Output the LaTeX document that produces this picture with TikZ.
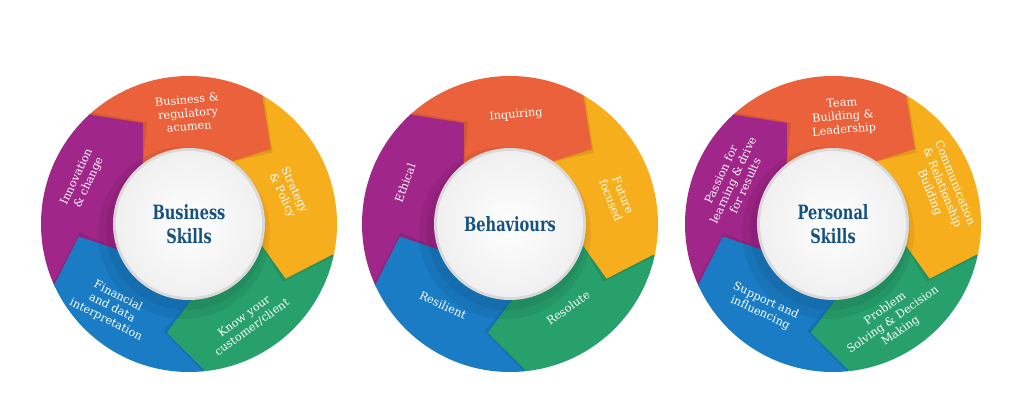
\documentclass[tikz,border=0pt]{standalone}
\usepackage{fontspec}
\setmainfont{DejaVu Serif}
\newfontfamily\hubfont{DejaVu Serif}[FakeStretch=0.74]
\usepackage{tikz}

\definecolor{segorange}{RGB}{234,97,59}
\definecolor{segyellow}{RGB}{247,174,29}
\definecolor{seggreen}{RGB}{39,160,108}
\definecolor{segblue}{RGB}{26,124,196}
\definecolor{segpurple}{RGB}{161,38,137}
\definecolor{hubtext}{RGB}{22,82,128}

\tikzset{
  seg/.style={font=\fontsize{8}{9.5}\selectfont, text=white, align=center, inner sep=0pt},
  hub/.style={circle, minimum size=3.65cm, inner sep=0pt, inner color=white, outer color=gray!12,
    font=\hubfont\bfseries\fontsize{14}{17}\selectfont, text=hubtext, align=center}
}

\begin{document}
\begin{tikzpicture}[x=0.025cm,y=0.025cm]
  \useasboundingbox (0,0) rectangle (1024,414);

  % the three rings
  \foreach \cx in {189,510,833} {
    \begin{scope}[shift={(\cx,190)}]
      \begin{scope}
        \clip (0,0) circle (148);
        \foreach \b/\col in {60/segorange,132/segpurple,204/segblue,276/seggreen,348/segyellow}
          \fill[\col] (0,0) -- (\b:150) arc (\b:\b+72:150) -- cycle;
        \foreach \b/\col in {60/segorange,132/segpurple,204/segblue,276/seggreen,348/segyellow} {
          \fill[black,opacity=.10] (\b:150) -- (\b-19.5:110) -- (\b:70) -- cycle;
          \fill[\col] (\b+1:150) -- (\b-17.5:111) -- (\b+1:68) -- cycle;
        }
        \fill[black,opacity=.06] (-5,-9) circle (86);
        \fill[black,opacity=.06] (-3,-6) circle (80);
      \end{scope}
      \fill[gray!30] (0,0) circle (76);
    \end{scope}
  }

  % Business Skills
  \begin{scope}[shift={(189,190)}]
    \node[hub] (a-hub) at (0,0) {Business\\Skills};
    \node[seg,rotate=5] (a-or) at (-1,111) {Business \&\\regulatory\\acumen};
    \node[seg,rotate=-65] (a-ye) at (99,31) {Strategy\\\& Policy};
    \node[seg,rotate=36] (a-gr) at (59,-98) {Know your\\customer/client};
    \node[seg,rotate=-27] (a-bl) at (-77,-84) {Financial\\and data\\interpretation};
    \node[seg,rotate=65] (a-pu) at (-106,44) {Innovation\\\& change};
  \end{scope}

  % Behaviours
  \begin{scope}[shift={(510,190)}]
    \node[hub] (b-hub) at (0,0) {Behaviours};
    \node[seg,rotate=5] (b-or) at (6,109) {Inquiring};
    \node[seg,rotate=-68] (b-ye) at (107,26) {Future\\focused};
    \node[seg,rotate=35] (b-gr) at (58,-84) {Resolute};
    \node[seg,rotate=-25] (b-bl) at (-67,-81) {Resilient};
    \node[seg,rotate=70] (b-pu) at (-105,41) {Ethical};
  \end{scope}

  % Personal Skills
  \begin{scope}[shift={(833,190)}]
    \node[hub] (c-hub) at (0,0) {Personal\\Skills};
    \node[seg,rotate=5] (c-or) at (10,107) {Team\\Building \&\\Leadership};
    \node[seg,rotate=-68] (c-ye) at (109,36) {Communication\\\& Relationship\\Building};
    \node[seg,rotate=35] (c-gr) at (60,-96) {Problem\\Solving \& Decision\\Making};
    \node[seg,rotate=-25] (c-bl) at (-70,-83) {Support and\\influencing};
    \node[seg,rotate=65] (c-pu) at (-100,44) {Passion for\\learning \& drive\\for results};
  \end{scope}
\end{tikzpicture}
\end{document}
